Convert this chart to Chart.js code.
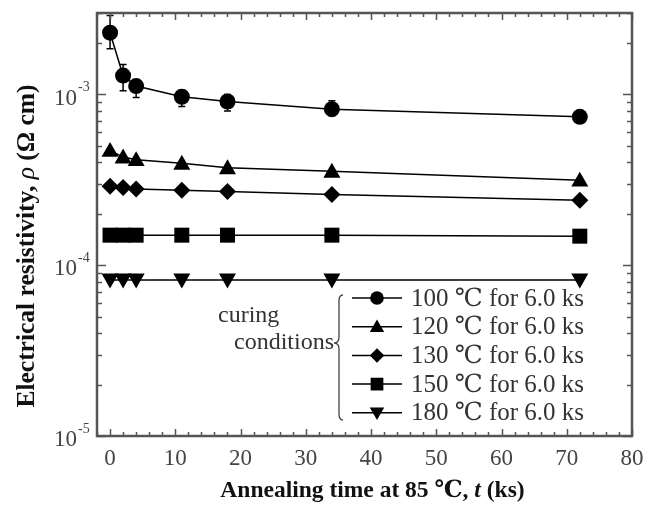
<!DOCTYPE html>
<html>
<head>
<meta charset="utf-8">
<script src="https://cdn.jsdelivr.net/npm/chart.js@4"></script>
<style>
  html, body { margin: 0; padding: 0; background: #fff; }
</style>
</head>
<body>
<canvas id="chart" width="649" height="511"></canvas>
<script>
// annealing time at 85 C (ks)
const annealTime = [0, 2, 4, 11, 18, 34, 72];

// resistivity (ohm cm) per curing condition
const rho100 = [2.3e-3, 1.29e-3, 1.12e-3, 0.97e-3, 0.91e-3, 0.82e-3, 0.74e-3];
const rho100Hi = [2.9e-3, 1.5e-3, 1.22e-3, 1.06e-3, 1.0e-3, 0.92e-3, 0.78e-3];
const rho100Lo = [1.85e-3, 1.05e-3, 0.96e-3, 0.85e-3, 0.8e-3, 0.75e-3, 0.7e-3];
const rho120 = [4.7e-4, 4.3e-4, 4.15e-4, 3.95e-4, 3.72e-4, 3.55e-4, 3.15e-4];
const rho130 = [2.9e-4, 2.85e-4, 2.8e-4, 2.75e-4, 2.7e-4, 2.6e-4, 2.4e-4];
const rho150 = [1.5e-4, 1.5e-4, 1.5e-4, 1.5e-4, 1.5e-4, 1.5e-4, 1.48e-4];
const rho180 = [8.2e-5, 8.2e-5, 8.2e-5, 8.2e-5, 8.2e-5, 8.2e-5, 8.2e-5];

const seriesLabels = ['100 ℃ for 6.0 ks', '120 ℃ for 6.0 ks', '130 ℃ for 6.0 ks', '150 ℃ for 6.0 ks', '180 ℃ for 6.0 ks'];
const xTickLabels = [0, 10, 20, 30, 40, 50, 60, 70, 80];
const yDecades = [-5, -4, -3];

const SERIF = '"Liberation Serif", "DejaVu Serif", serif';

const markers = [
  { style: 'circle', r: 8 },
  { style: 'triangle', r: 8.5 },
  { style: 'diamond', r: 8.5 },
  { style: 'square', r: 7.5 },
  { style: 'down', r: 8.5 },
];

const pts = ys => annealTime.map((t, i) => ({ x: t, y: ys[i] }));

function drawMarker(ctx, style, x, y, r) {
  ctx.beginPath();
  if (style === 'circle') {
    ctx.arc(x, y, r, 0, Math.PI * 2);
  } else if (style === 'triangle') {
    ctx.moveTo(x, y - r);
    ctx.lineTo(x + r, y + r * 0.75);
    ctx.lineTo(x - r, y + r * 0.75);
  } else if (style === 'down') {
    ctx.moveTo(x, y + r);
    ctx.lineTo(x + r, y - r * 0.75);
    ctx.lineTo(x - r, y - r * 0.75);
  } else if (style === 'diamond') {
    ctx.moveTo(x, y - r);
    ctx.lineTo(x + r, y);
    ctx.lineTo(x, y + r);
    ctx.lineTo(x - r, y);
  } else {
    ctx.rect(x - r, y - r, 2 * r, 2 * r);
  }
  ctx.closePath();
  ctx.fill();
}

const markerPlugin = {
  id: 'markers',
  afterDatasetsDraw(chart) {
    const ctx = chart.ctx;
    const xs = chart.scales.x, ys = chart.scales.y;
    ctx.save();
    ctx.fillStyle = '#000';
    ctx.strokeStyle = '#000';
    ctx.lineWidth = 1.5;
    // error bars for the 100 C series
    annealTime.forEach((t, i) => {
      const px = xs.getPixelForValue(t);
      const hi = ys.getPixelForValue(rho100Hi[i]);
      const lo = ys.getPixelForValue(rho100Lo[i]);
      ctx.beginPath();
      ctx.moveTo(px, hi); ctx.lineTo(px, lo);
      ctx.moveTo(px - 3.5, hi); ctx.lineTo(px + 3.5, hi);
      ctx.moveTo(px - 3.5, lo); ctx.lineTo(px + 3.5, lo);
      ctx.stroke();
    });
    chart.data.datasets.forEach((ds, di) => {
      const meta = chart.getDatasetMeta(di);
      meta.data.forEach(el => drawMarker(ctx, markers[di].style, el.x, el.y, markers[di].r));
    });
    ctx.restore();
  }
};

const framePlugin = {
  id: 'frame',
  beforeDraw(chart) {
    const ctx = chart.ctx;
    ctx.save();
    ctx.fillStyle = '#fff';
    ctx.fillRect(0, 0, chart.width, chart.height);
    ctx.restore();
  },
  afterDraw(chart) {
    const ctx = chart.ctx;
    const ca = chart.chartArea;
    const xs = chart.scales.x, ys = chart.scales.y;
    ctx.save();
    ctx.strokeStyle = '#555';
    ctx.lineWidth = 1.5;

    // x ticks, inward on bottom and top
    ctx.beginPath();
    for (let v = -2; v <= 80; v += 2) {
      const px = Math.round(xs.getPixelForValue(v)) + 0.5;
      const len = v % 10 === 0 ? 7 : 4;
      ctx.moveTo(px, ca.bottom); ctx.lineTo(px, ca.bottom - len);
      ctx.moveTo(px, ca.top); ctx.lineTo(px, ca.top + len);
    }
    // y ticks, inward on left and right
    yDecades.forEach(d => {
      for (let k = 1; k <= 9; k++) {
        const v = k * Math.pow(10, d);
        if (v > ys.max * 1.0001) break;
        const py = Math.round(ys.getPixelForValue(v)) + 0.5;
        const len = k === 1 ? 9 : 5;
        ctx.moveTo(ca.left, py); ctx.lineTo(ca.left + len, py);
        ctx.moveTo(ca.right, py); ctx.lineTo(ca.right - len, py);
      }
    });
    ctx.stroke();

    // frame
    ctx.lineWidth = 2.5;
    ctx.strokeRect(ca.left, ca.top, ca.right - ca.left, ca.bottom - ca.top);

    // x tick labels
    ctx.fillStyle = '#444';
    ctx.font = '23px ' + SERIF;
    ctx.textAlign = 'center';
    ctx.textBaseline = 'middle';
    xTickLabels.forEach(v => {
      ctx.fillText(String(v), xs.getPixelForValue(v), ca.bottom + 23);
    });

    // y tick labels 10^n
    yDecades.forEach(d => {
      const py = ys.getPixelForValue(Math.pow(10, d));
      ctx.font = '23px ' + SERIF;
      ctx.textAlign = 'right';
      ctx.textBaseline = 'middle';
      ctx.fillText('10', 77, py + 4);
      ctx.font = '14px ' + SERIF;
      ctx.textAlign = 'left';
      ctx.fillText('-' + Math.abs(d), 78, py - 7);
    });

    // axis titles
    ctx.fillStyle = '#111';
    const drawRich = (parts, cx, cy, size) => {
      let total = 0;
      parts.forEach(p => { ctx.font = p[1] + ' ' + size + 'px ' + SERIF; total += ctx.measureText(p[0]).width; });
      let x = cx - total / 2;
      ctx.textAlign = 'left';
      ctx.textBaseline = 'middle';
      parts.forEach(p => {
        ctx.font = p[1] + ' ' + size + 'px ' + SERIF;
        ctx.fillText(p[0], x, cy);
        x += ctx.measureText(p[0]).width;
      });
    };
    drawRich([['Annealing time at 85 ℃, ', 'bold'], ['t', 'italic bold'], [' (ks)', 'bold']],
      (ca.left + ca.right) / 2 + 8, 491, 23.5);
    ctx.save();
    ctx.translate(27, 246);
    ctx.rotate(-Math.PI / 2);
    drawRich([['Electrical resistivity, ', 'bold'], ['ρ', 'italic'], [' (Ω cm)', 'bold']], 0, 0, 25.5);
    ctx.restore();

    // legend
    ctx.font = '25px ' + SERIF;
    ctx.textAlign = 'left';
    ctx.textBaseline = 'middle';
    seriesLabels.forEach((lab, i) => {
      const ly = ca.top + 285 + i * 28.7;
      ctx.strokeStyle = '#000';
      ctx.lineWidth = 1.5;
      ctx.beginPath();
      ctx.moveTo(ca.left + 255, ly); ctx.lineTo(ca.left + 305, ly);
      ctx.stroke();
      ctx.fillStyle = '#000';
      drawMarker(ctx, markers[i].style, ca.left + 280, ly, markers[i].r * 0.85);
      ctx.fillStyle = '#333';
      ctx.fillText(lab, ca.left + 314, ly + 1);
    });

    // curing conditions + brace
    ctx.fillStyle = '#333';
    ctx.font = '24px ' + SERIF;
    ctx.textAlign = 'left';
    ctx.fillText('curing', 218, 316);
    ctx.textAlign = 'right';
    ctx.fillText('conditions', 334, 343);
    const bx = 339, top = 295, bot = 420, mid = 343;
    ctx.strokeStyle = '#444';
    ctx.lineWidth = 1.3;
    ctx.beginPath();
    ctx.moveTo(bx + 4, top);
    ctx.quadraticCurveTo(bx, top, bx, top + 6);
    ctx.lineTo(bx, mid - 6);
    ctx.quadraticCurveTo(bx, mid, bx - 5, mid);
    ctx.quadraticCurveTo(bx, mid, bx, mid + 6);
    ctx.lineTo(bx, bot - 6);
    ctx.quadraticCurveTo(bx, bot, bx + 4, bot);
    ctx.stroke();
    ctx.restore();
  }
};

const lineDs = (label, ys) => ({
  label,
  data: pts(ys),
  borderColor: '#000',
  borderWidth: 1.5,
  pointRadius: 0,
  fill: false,
  tension: 0,
});

new Chart(document.getElementById('chart'), {
  type: 'line',
  data: {
    datasets: [
      lineDs(seriesLabels[0], rho100),
      lineDs(seriesLabels[1], rho120),
      lineDs(seriesLabels[2], rho130),
      lineDs(seriesLabels[3], rho150),
      lineDs(seriesLabels[4], rho180),
    ],
  },
  options: {
    responsive: false,
    animation: false,
    layout: { padding: { left: 97, top: 13, right: 17, bottom: 75 } },
    plugins: {
      legend: { display: false },
      tooltip: { enabled: false },
    },
    scales: {
      x: {
        type: 'linear',
        min: -2,
        max: 80,
        grid: { display: false, drawTicks: false },
        border: { display: false },
        ticks: { display: false },
      },
      y: {
        type: 'logarithmic',
        min: 1e-5,
        max: 3e-3,
        grid: { display: false, drawTicks: false },
        border: { display: false },
        ticks: { display: false },
      },
    },
  },
  plugins: [framePlugin, markerPlugin],
});
</script>
</body>
</html>
